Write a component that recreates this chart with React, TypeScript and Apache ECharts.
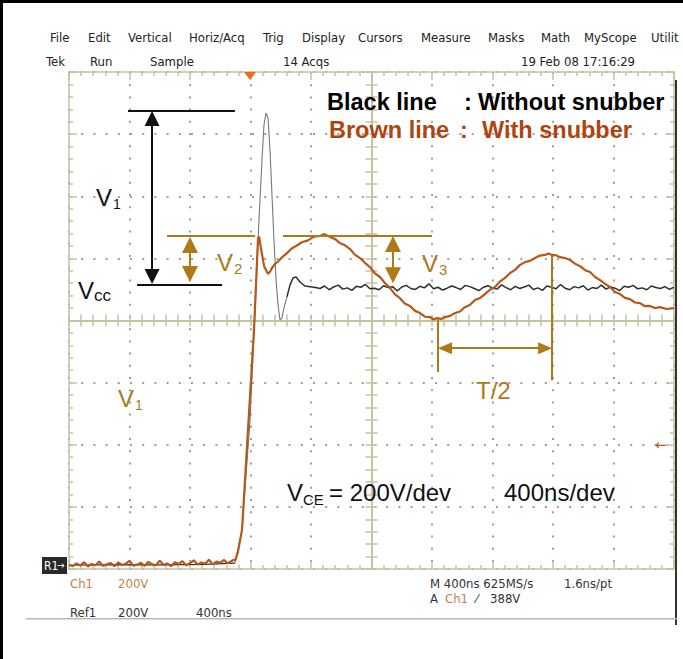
import React, { useEffect, useRef } from "react";
import * as echarts from "echarts";

// ---------------- data (time in ns, voltage in V) ----------------
const timeMinNs = 0;
const timeMaxNs = 4000;
const timePerDivNs = 400;
const voltMin = 0;
const voltMax = 1600;
const voltPerDiv = 200;

// Brown trace: "With snubber" (Ch1)
const withSnubberBaseline: [number, number][] = [
  [0, 14], [25, 9], [50, 18], [75, 11], [100, 22], [125, 8], [150, 16], [175, 12], [200, 24], [225, 10],
  [250, 15], [275, 19], [300, 9], [325, 21], [350, 13], [375, 17], [400, 26], [425, 11], [450, 14], [475, 20],
  [500, 10], [525, 23], [550, 15], [575, 12], [600, 27], [625, 13], [650, 18], [675, 9], [700, 22], [725, 16],
  [750, 25], [775, 12], [800, 19], [825, 28], [850, 14], [875, 21], [900, 17], [925, 30], [950, 15], [975, 24],
  [1000, 20], [1025, 29], [1050, 18], [1075, 26], [1090, 30],
];
const withSnubberRise: [number, number][] = [
  [1100, 28], [1117, 55], [1144, 126], [1180, 420], [1223, 769], [1250, 1066], [1257, 1070],
  [1270, 1030], [1290, 975], [1316, 950],
];
const withSnubberRinging: [number, number][] = [
  [1330, 958], [1342, 969], [1360, 981], [1382, 990], [1410, 1004], [1441, 1017], [1470, 1031], [1501, 1040],
  [1540, 1052], [1580, 1058], [1620, 1070], [1659, 1072], [1690, 1078], [1726, 1069], [1760, 1062], [1792, 1049],
  [1825, 1042], [1858, 1030], [1890, 1012], [1924, 1001], [1958, 985], [1990, 972], [2022, 952], [2056, 940],
  [2090, 920], [2122, 905], [2155, 884], [2188, 872], [2220, 855], [2254, 847], [2288, 831], [2321, 824],
  [2355, 812], [2387, 811], [2410, 803], [2433, 808], [2460, 805], [2486, 811], [2520, 815], [2552, 824],
  [2585, 829], [2618, 843], [2650, 850], [2684, 866], [2717, 872], [2750, 885], [2783, 899], [2817, 908],
  [2850, 926], [2883, 937], [2916, 953], [2949, 963], [2982, 979], [3015, 988], [3048, 992], [3081, 1001],
  [3114, 1009], [3147, 1011], [3170, 1016], [3193, 1011], [3220, 1010], [3246, 1004], [3280, 1001], [3312, 995],
  [3345, 983], [3379, 975], [3412, 962], [3445, 956], [3478, 940], [3511, 930], [3544, 918], [3577, 908],
  [3610, 892], [3643, 885], [3676, 873], [3709, 869], [3742, 858], [3775, 856], [3808, 846], [3841, 847],
  [3874, 840], [3907, 843], [3950, 837], [4000, 840],
];

// Black trace: "Without snubber" (Ref1)
const withoutSnubberBaseline: [number, number][] = [
  [0, 12], [300, 14], [600, 13], [900, 15], [1097, 19],
];
const withoutSnubberSpike: [number, number][] = [
  [1097, 19], [1144, 126], [1197, 480], [1236, 898], [1256, 1124], [1276, 1317], [1289, 1429], [1302, 1468],
  [1316, 1452], [1329, 1349], [1342, 1204], [1355, 1059], [1369, 930], [1382, 850], [1395, 802], [1408, 808],
  [1421, 840], [1441, 876],
];
const withoutSnubberSettle: [number, number][] = [
  [1441, 876], [1461, 914], [1481, 937], [1501, 940], [1527, 924], [1560, 911], [1607, 908],
];
const withoutSnubberTailStartNs = 1630;
const withoutSnubberTailStepNs = 30;
const withoutSnubberTail: number[] = [
  906, 903, 911, 899, 908, 914, 901, 905, 897, 910,
  907, 916, 902, 904, 899, 912, 906, 909, 895, 908,
  913, 903, 900, 910, 905, 918, 902, 907, 898, 904,
  911, 906, 900, 913, 909, 903, 896, 907, 912, 904,
  901, 915, 906, 899, 910, 903, 908, 914, 900, 905,
  897, 911, 907, 902, 916, 904, 899, 909, 905, 912,
  898, 906, 903, 914, 901, 908, 904, 896, 910, 907,
  913, 902, 905, 899, 911, 906, 903, 909, 900, 907,
];

// Texts
const menuItems = ["File", "Edit", "Vertical", "Horiz/Acq", "Trig", "Display", "Cursors", "Measure", "Masks", "Math", "MyScope", "Utilit"];
const statusItems = ["Tek", "Run", "Sample", "14 Acqs", "19 Feb 08 17:16:29"];
const legendBlack = ["Black line", ":", "Without snubber"];
const legendBrown = ["Brown line", ":", "With snubber"];

// ---------------- layout / styles ----------------
const G = { left: 69, top: 72, width: 605, height: 497 };
const khaki = "#C6C2A2";
const dotColor = "#9E9E9E";
const brownTrace = "#B5581B";
const gold = "#AD7A17";
const legendBrownColor = "#B0440E";
const footBrown = "#C0834A";
const uiFont = "'Liberation Sans Narrow', 'DejaVu Sans Condensed', 'Liberation Sans', sans-serif";
const sans = "'Liberation Sans', Arial, sans-serif";

const menuX = [50, 88, 128, 189, 263, 302, 358, 421, 488, 541, 584, 651];
const statusX = [46, 90, 150, 283, 521];

function txt(text: string, x: number, y: number, size: number, color: string, extra: any = {}) {
  return {
    type: "text",
    x,
    y,
    z: 70,
    silent: true,
    style: {
      text,
      fill: color,
      fontSize: size,
      fontFamily: sans,
      align: "left",
      verticalAlign: "middle",
      ...extra,
    },
  };
}

function buildOption() {
  const brownData = [...withSnubberBaseline, ...withSnubberRise, ...withSnubberRinging];
  const blackTailData: [number, number][] = withoutSnubberTail.map((v, i) => [
    withoutSnubberTailStartNs + i * withoutSnubberTailStepNs,
    v,
  ]);
  const blackSteady = [...withoutSnubberSettle, ...blackTailData];

  const dotted = { color: dotColor, width: 2, type: [2, 10.2] as any };
  const axisLineStyle = { color: khaki, width: 1.5 };

  const borderX = (position: "bottom" | "top", split: boolean) => ({
    type: "value",
    gridIndex: 0,
    position,
    min: timeMinNs,
    max: timeMaxNs,
    interval: timePerDivNs,
    axisLine: { show: true, onZero: false, lineStyle: axisLineStyle },
    axisTick: { show: true, inside: true, length: 8, lineStyle: axisLineStyle },
    minorTick: { show: true, splitNumber: 5, length: 4, lineStyle: axisLineStyle },
    axisLabel: { show: false },
    splitLine: { show: split, lineStyle: dotted },
  });
  const borderY = (position: "left" | "right", split: boolean) => ({
    type: "value",
    gridIndex: 0,
    position,
    min: voltMin,
    max: voltMax,
    interval: voltPerDiv,
    axisLine: { show: true, onZero: false, lineStyle: axisLineStyle },
    axisTick: { show: true, inside: true, length: 8, lineStyle: axisLineStyle },
    minorTick: { show: true, splitNumber: 5, length: 4, lineStyle: axisLineStyle },
    axisLabel: { show: false },
    splitLine: { show: split, lineStyle: dotted },
  });
  const centerX = (inside: boolean) => ({
    type: "value",
    gridIndex: 1,
    position: "bottom",
    min: timeMinNs,
    max: timeMaxNs,
    interval: timePerDivNs / 5,
    axisLine: { show: true, onZero: false, lineStyle: { color: khaki, width: 2 } },
    axisTick: { show: true, inside, length: 6, lineStyle: axisLineStyle },
    axisLabel: { show: false },
    splitLine: { show: false },
  });
  const centerY = (inside: boolean) => ({
    type: "value",
    gridIndex: 2,
    position: "right",
    min: voltMin,
    max: voltMax,
    interval: voltPerDiv / 5,
    axisLine: { show: true, onZero: false, lineStyle: { color: khaki, width: 2 } },
    axisTick: { show: true, inside, length: 6, lineStyle: axisLineStyle },
    axisLabel: { show: false },
    splitLine: { show: false },
  });

  const plain = (a: [number, number], b: [number, number], color: string) => [
    { coord: a, symbol: "none", lineStyle: { color, width: 2, type: "solid" } },
    { coord: b, symbol: "none" },
  ];
  const arrow = (a: [number, number], b: [number, number], color: string, size: number[]) => [
    { coord: a, symbol: "triangle", symbolSize: size, lineStyle: { color, width: 2, type: "solid" } },
    { coord: b, symbol: "triangle", symbolSize: size },
  ];

  const graphic: any[] = [];
  // frame
  graphic.push({ type: "rect", z: 60, shape: { x: 0, y: 0, width: 683, height: 3 }, style: { fill: "#000" } });
  graphic.push({ type: "rect", z: 60, shape: { x: 0, y: 0, width: 3, height: 659 }, style: { fill: "#000" } });
  graphic.push({ type: "rect", z: 60, shape: { x: 675, y: 80, width: 2, height: 545 }, style: { fill: "#333" } });
  graphic.push({ type: "rect", z: 60, shape: { x: 26, y: 618, width: 651, height: 1.5 }, style: { fill: "#B8B8B8" } });
  // header
  menuItems.forEach((m, i) => graphic.push(txt(m, menuX[i], 37, 13, "#222", { fontFamily: uiFont })));
  statusItems.forEach((m, i) => graphic.push(txt(m, statusX[i], 61, 13, "#222", { fontFamily: uiFont })));
  // trigger marker
  graphic.push({ type: "polygon", z: 60, shape: { points: [[244, 72], [256, 72], [250, 80]] }, style: { fill: "#F26A1B" } });
  // R1 marker
  graphic.push({ type: "rect", z: 60, shape: { x: 42, y: 557, width: 25, height: 17 }, style: { fill: "#2A2A2A" } });
  graphic.push(txt("R1", 44, 566, 12, "#fff", { fontFamily: uiFont }));
  graphic.push(txt("→", 57, 565, 10, "#fff", { fontFamily: uiFont }));
  // right level marker
  graphic.push(txt("←", 655, 445, 15, brownTrace, { fontFamily: uiFont }));
  // footer
  graphic.push(txt("Ch1", 70, 583, 13, footBrown, { fontFamily: uiFont }));
  graphic.push(txt("200V", 118, 583, 13, footBrown, { fontFamily: uiFont }));
  graphic.push(txt("Ref1", 70, 612, 13, "#333", { fontFamily: uiFont }));
  graphic.push(txt("200V", 118, 612, 13, "#333", { fontFamily: uiFont }));
  graphic.push(txt("400ns", 196, 612, 13, "#333", { fontFamily: uiFont }));
  graphic.push(txt("M 400ns 625MS/s", 430, 583, 13, "#333", { fontFamily: uiFont }));
  graphic.push(txt("1.6ns/pt", 564, 583, 13, "#333", { fontFamily: uiFont }));
  graphic.push(txt("A", 430, 598, 13, "#333", { fontFamily: uiFont }));
  graphic.push(txt("Ch1", 445, 598, 13, footBrown, { fontFamily: uiFont }));
  graphic.push(txt("⁄", 476, 598, 13, "#333", { fontFamily: uiFont }));
  graphic.push(txt("388V", 490, 598, 13, "#333", { fontFamily: uiFont }));
  // legend
  graphic.push(txt(legendBlack[0], 327, 102, 23.5, "#000", { fontWeight: "bold" }));
  graphic.push(txt(legendBlack[1], 464, 102, 23.5, "#000", { fontWeight: "bold" }));
  graphic.push(txt(legendBlack[2], 478, 102, 23.5, "#000", { fontWeight: "bold" }));
  graphic.push(txt(legendBrown[0], 329, 130, 23.5, legendBrownColor, { fontWeight: "bold" }));
  graphic.push(txt(legendBrown[1], 460, 130, 23.5, legendBrownColor, { fontWeight: "bold" }));
  graphic.push(txt(legendBrown[2], 482, 130, 23.5, legendBrownColor, { fontWeight: "bold" }));
  // annotation labels
  graphic.push(txt("V", 96, 197, 24, "#111"));
  graphic.push(txt("1", 113, 204, 14, "#111"));
  graphic.push(txt("V", 78, 290, 24, "#111"));
  graphic.push(txt("cc", 94, 295, 17, "#111"));
  graphic.push(txt("V", 217, 262, 24, gold));
  graphic.push(txt("2", 234, 268, 15, gold));
  graphic.push(txt("V", 422, 263, 24, gold));
  graphic.push(txt("3", 439, 269, 15, gold));
  graphic.push(txt("V", 118, 398, 24, gold));
  graphic.push(txt("1", 135, 405, 14, gold));
  graphic.push(txt("T/2", 476, 390, 24, gold));
  graphic.push(txt("V", 287, 492, 24, "#111"));
  graphic.push(txt("CE", 303, 499, 15, "#111"));
  graphic.push(txt("= 200V/dev", 329, 492, 24, "#111"));
  graphic.push(txt("400ns/dev", 504, 492, 24, "#111"));

  return {
    animation: false,
    backgroundColor: "#fff",
    grid: [
      { ...G, containLabel: false },
      { left: G.left, top: G.top, width: G.width, height: G.height / 2, containLabel: false },
      { left: G.left, top: G.top, width: G.width / 2, height: G.height, containLabel: false },
    ],
    xAxis: [
      borderX("bottom", true),
      borderX("top", false),
      centerX(false),
      centerX(true),
      { type: "value", gridIndex: 2, show: false, min: 0, max: 1 },
    ],
    yAxis: [
      borderY("left", true),
      borderY("right", false),
      { type: "value", gridIndex: 1, show: false, min: 0, max: 1 },
      centerY(false),
      centerY(true),
    ],
    series: [
      {
        name: "Without snubber (baseline)",
        type: "line",
        xAxisIndex: 0,
        yAxisIndex: 0,
        data: withoutSnubberBaseline,
        showSymbol: false,
        lineStyle: { color: "#303030", width: 1.2 },
        z: 3,
      },
      {
        name: "Without snubber (spike)",
        type: "line",
        xAxisIndex: 0,
        yAxisIndex: 0,
        data: withoutSnubberSpike,
        showSymbol: false,
        lineStyle: { color: "#777", width: 1.1 },
        z: 3,
      },
      {
        name: "Without snubber",
        type: "line",
        xAxisIndex: 0,
        yAxisIndex: 0,
        data: blackSteady,
        showSymbol: false,
        lineStyle: { color: "#2E2E2E", width: 1.5 },
        z: 3,
        markLine: {
          silent: true,
          animation: false,
          label: { show: false },
          emphasis: { disabled: true },
          data: [
            plain([390, 1474], [1097, 1474], "#111"),
            plain([450, 914], [1012, 914], "#111"),
            arrow([549, 1450], [549, 942], "#111", [15, 15]),
          ],
        },
      },
      {
        name: "With snubber",
        type: "line",
        xAxisIndex: 0,
        yAxisIndex: 0,
        data: brownData,
        showSymbol: false,
        lineStyle: { color: brownTrace, width: 2.2 },
        z: 4,
        markLine: {
          silent: true,
          animation: false,
          label: { show: false },
          emphasis: { disabled: true },
          data: [
            plain([648, 1072], [1230, 1072], gold),
            plain([1415, 1072], [2400, 1072], gold),
            arrow([800, 1043], [800, 950], gold, [16, 16]),
            arrow([2142, 1046], [2142, 946], gold, [16, 16]),
            plain([2440, 808], [2440, 634], gold),
            plain([3194, 1011], [3194, 608], gold),
            arrow([2486, 711], [3148, 711], gold, [12, 14]),
          ],
        },
      },
    ],
    graphic,
  };
}

export default function App() {
  const ref = useRef<HTMLDivElement>(null);
  useEffect(() => {
    if (!ref.current) return;
    const chart = echarts.init(ref.current, null, { renderer: "svg" });
    chart.setOption(buildOption() as any);
    return () => chart.dispose();
  }, []);
  return (
    <div
      ref={ref}
      style={{ position: "fixed", left: 0, top: 0, width: 683, height: 659, background: "#fff" }}
    />
  );
}
